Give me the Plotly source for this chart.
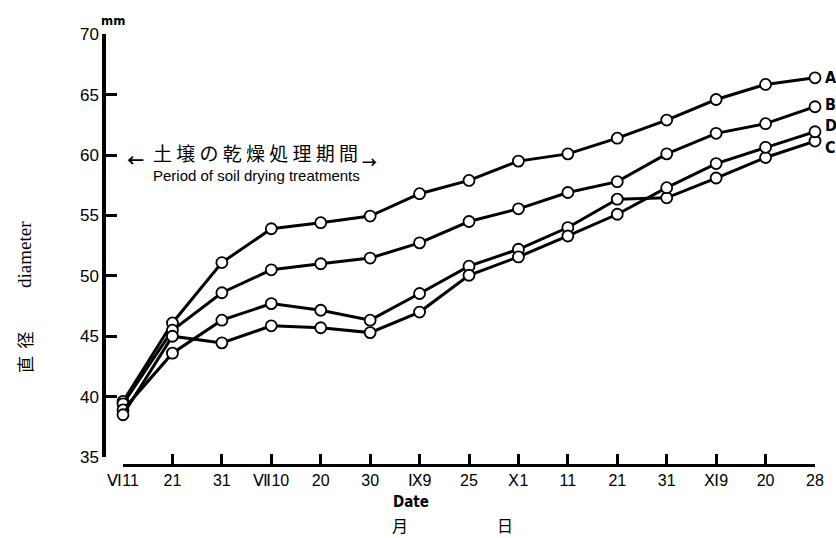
import plotly.graph_objects as go

W, H = 836, 538

dates = ["Ⅵ11", "21", "31", "Ⅶ10", "20", "30", "Ⅸ9", "25", "Ⅹ1", "11", "21", "31", "Ⅺ9", "20", "28"]
series_A = [39.6, 46.1, 51.1, 53.9, 54.4, 54.95, 56.8, 57.9, 59.5, 60.1, 61.4, 62.9, 64.6, 65.85, 66.4]
series_B = [39.4, 45.5, 48.6, 50.5, 51.0, 51.47, 52.73, 54.5, 55.55, 56.9, 57.8, 60.1, 61.8, 62.6, 64.0]
series_C = [38.9, 43.6, 46.33, 47.7, 47.15, 46.33, 48.54, 50.8, 52.2, 54.0, 56.35, 56.46, 58.1, 59.8, 61.16]
series_D = [38.5, 45.0, 44.45, 45.86, 45.7, 45.3, 47.0, 50.05, 51.57, 53.3, 55.1, 57.3, 59.3, 60.64, 61.93]
series_names = ["A", "B", "C", "D"]
y_ticks = [35, 40, 45, 50, 55, 60, 65, 70]

xs = list(range(len(dates)))
fig = go.Figure()
for name, vals in zip(series_names, [series_A, series_B, series_C, series_D]):
    fig.add_trace(go.Scatter(
        x=xs, y=vals, mode="lines+markers", name=name,
        line=dict(color="black", width=3),
        marker=dict(symbol="circle", size=11, color="white",
                    line=dict(color="black", width=1.8)),
        showlegend=False, cliponaxis=False,
    ))

def px_x(p):
    return p / W

def px_y(p):
    return (H - p) / H

fig.update_layout(
    width=W, height=H,
    margin=dict(l=0, r=0, t=0, b=0),
    paper_bgcolor="white", plot_bgcolor="white",
    xaxis=dict(
        domain=[px_x(123), px_x(815)], range=[0, len(dates) - 1],
        anchor="free", position=px_y(465),
        tickmode="array", tickvals=xs, ticktext=dates,
        showgrid=False, zeroline=False,
        showline=True, linecolor="black", linewidth=3,
        ticks="inside", ticklen=10, tickwidth=2.5, tickcolor="black",
        tickfont=dict(family="Liberation Sans", size=16, color="black"),
        automargin=False,
    ),
    yaxis=dict(
        domain=[px_y(457), px_y(34.3)], range=[35, 70],
        anchor="free", position=px_x(104),
        tickmode="array", tickvals=y_ticks,
        showgrid=False, zeroline=False,
        showline=True, linecolor="black", linewidth=3.5,
        ticks="inside", ticklen=11, tickwidth=3, tickcolor="black",
        tickfont=dict(family="Liberation Sans", size=17, color="black"),
        automargin=False,
    ),
)

ann = []

def note(text, xp, yp, family, size, angle=0):
    ann.append(dict(text=text, x=px_x(xp), y=px_y(yp), xref="paper", yref="paper",
                    xanchor="center", yanchor="middle", textangle=angle,
                    showarrow=False, font=dict(family=family, size=size, color="black")))

# unit
note("<b>mm</b>", 113, 21, "DejaVu Sans Condensed", 13)
# y title
note("直  径", 24, 352, "Noto Sans CJK JP", 17, -90)
note("diameter", 24, 255, "Liberation Serif", 19, -90)
# x titles
note("<b>Date</b>", 411, 502, "DejaVu Sans Condensed", 15)
note("月", 400, 525, "Noto Sans CJK JP", 16)
note("日", 505, 525, "Noto Sans CJK JP", 16)
# treatment period note
note("<b>←</b>", 135, 160, "Noto Sans CJK JP", 17)
note("土 壌 の 乾 燥 処 理 期 間", 255, 153, "Noto Sans CJK JP", 19)
note("<b>→</b>", 369, 161, "Noto Sans CJK JP", 15)
note("Period of soil drying treatments", 256, 175, "Liberation Sans", 15)

# series labels
label_shift = {"A": 0, "B": 2, "C": -6, "D": 6}
for name, vals in zip(series_names, [series_A, series_B, series_C, series_D]):
    ann.append(dict(text="<b>" + name + "</b>", x=xs[-1], y=vals[-1], xref="x", yref="y",
                    xanchor="left", yanchor="middle", xshift=8, yshift=label_shift[name], showarrow=False,
                    font=dict(family="DejaVu Sans Condensed", size=16, color="black")))
fig.update_layout(annotations=ann)

fig.write_html("out.html")
